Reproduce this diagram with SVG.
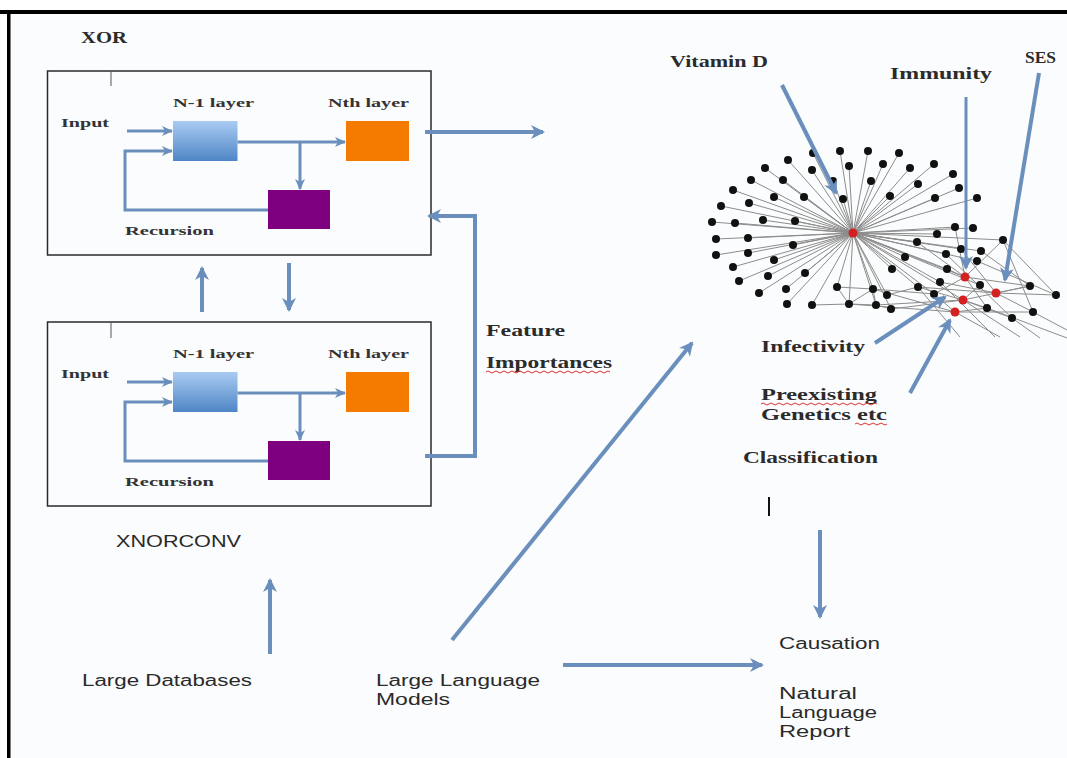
<svg xmlns="http://www.w3.org/2000/svg" width="1067" height="758" viewBox="0 0 1067 758">
<style>
.box{fill:none;stroke:#2a2a2a;stroke-width:1.5}
.ar{fill:none;stroke:#6b8fbd;stroke-width:4;stroke-linecap:butt}
.ars{fill:none;stroke:#6b8fbd;stroke-width:3}
.lbl{font-family:"Liberation Serif",serif;font-weight:bold;fill:#2b2b2b}
.bl{font-family:"Liberation Serif",serif;font-weight:bold;fill:#333;font-size:13px}
.sl{font-family:"Liberation Sans",sans-serif;fill:#2a2a2a;font-size:16px}
.e{stroke:#8c8c8c;stroke-width:1;fill:none}
.n{fill:#111}
.r{fill:#d42020}
.sq{fill:none;stroke:#e03030;stroke-width:1}
</style>
<defs>
<marker id="ah" markerUnits="userSpaceOnUse" markerWidth="16" markerHeight="16" refX="13" refY="8" orient="auto">
<path d="M1,1 L15,8 L1,15 L5,8 z" fill="#6b8fbd"/>
</marker>
<marker id="ahs" markerUnits="userSpaceOnUse" markerWidth="12" markerHeight="12" refX="10" refY="6" orient="auto">
<path d="M0,1 L11,6 L0,11 L3,6 z" fill="#6b8fbd"/>
</marker>
<linearGradient id="gb" x1="0" y1="0" x2="0" y2="1">
<stop offset="0" stop-color="#a9cbf2"/>
<stop offset="1" stop-color="#4f86c6"/>
</linearGradient>
</defs>
<rect x="0" y="0" width="1067" height="758" fill="#ffffff"/>
<rect x="9" y="14" width="1058" height="744" fill="#fbfcfd"/>
<rect x="0" y="10" width="1067" height="4" fill="#000"/>
<rect x="7" y="10" width="3.5" height="748" fill="#000"/>

<g id="xor-block">
<text class="lbl" x="81" y="43" font-size="16.5" textLength="46" lengthAdjust="spacingAndGlyphs">XOR</text>
<rect class="box" x="47.5" y="71" width="383.5" height="184"/>
<line x1="111" y1="71" x2="111" y2="86" stroke="#555" stroke-width="1"/>
<text class="bl" x="173" y="107" textLength="81" lengthAdjust="spacingAndGlyphs">N-1 layer</text>
<text class="bl" x="328" y="107" textLength="81" lengthAdjust="spacingAndGlyphs">Nth layer</text>
<text class="bl" x="61" y="127" textLength="48" lengthAdjust="spacingAndGlyphs">Input</text>
<text class="bl" x="125" y="235" textLength="89" lengthAdjust="spacingAndGlyphs">Recursion</text>
<rect x="173" y="121" width="64.5" height="40" fill="url(#gb)"/>
<rect x="346" y="121" width="63" height="40" fill="#f47b00"/>
<rect x="268" y="190" width="62" height="39" fill="#7f007f"/>
<line class="ars" x1="127" y1="131" x2="172" y2="131" marker-end="url(#ahs)"/>
<polyline class="ars" points="268,210 125,210 125,151 172,151" marker-end="url(#ahs)"/>
<line class="ars" x1="237.5" y1="142" x2="345" y2="142" marker-end="url(#ahs)"/>
<line class="ars" x1="300" y1="142" x2="300" y2="189" marker-end="url(#ahs)"/>
</g>

<g id="xnorconv-block">
<rect class="box" x="47.5" y="322" width="383.5" height="184"/>
<line x1="111" y1="322" x2="111" y2="338" stroke="#555" stroke-width="1"/>
<text class="bl" x="173" y="358" textLength="81" lengthAdjust="spacingAndGlyphs">N-1 layer</text>
<text class="bl" x="328" y="358" textLength="81" lengthAdjust="spacingAndGlyphs">Nth layer</text>
<text class="bl" x="61" y="378" textLength="48" lengthAdjust="spacingAndGlyphs">Input</text>
<text class="bl" x="125" y="486" textLength="89" lengthAdjust="spacingAndGlyphs">Recursion</text>
<rect x="173" y="372" width="64.5" height="40" fill="url(#gb)"/>
<rect x="346" y="372" width="63" height="40" fill="#f47b00"/>
<rect x="268" y="441" width="62" height="39" fill="#7f007f"/>
<line class="ars" x1="127" y1="382" x2="172" y2="382" marker-end="url(#ahs)"/>
<polyline class="ars" points="268,461 125,461 125,402 172,402" marker-end="url(#ahs)"/>
<line class="ars" x1="237.5" y1="393" x2="345" y2="393" marker-end="url(#ahs)"/>
<line class="ars" x1="300" y1="393" x2="300" y2="440" marker-end="url(#ahs)"/>
<text class="sl" x="116" y="547" font-size="17" textLength="125" lengthAdjust="spacingAndGlyphs">XNORCONV</text>
</g>

<g id="labels-left">
<text class="lbl" x="486" y="336" font-size="17" textLength="79" lengthAdjust="spacingAndGlyphs">Feature</text>
<text class="lbl" x="486" y="368" font-size="17" textLength="126" lengthAdjust="spacingAndGlyphs">Importances</text>
<path class="sq" d="M486,372 q2,-2 4,0 t4,0 t4,0 t4,0 t4,0 t4,0 t4,0 t4,0 t4,0 t4,0 t4,0 t4,0 t4,0 t4,0 t4,0 t4,0 t4,0 t4,0 t4,0 t4,0 t4,0 t4,0 t4,0 t4,0 t4,0 t4,0 t4,0 t4,0 t4,0 t4,0 t4,0"/>
</g>

<g id="large-databases"><text class="sl" x="82" y="686" textLength="170" lengthAdjust="spacingAndGlyphs">Large Databases</text></g>
<g id="llm"><text class="sl" x="376" y="686" textLength="164" lengthAdjust="spacingAndGlyphs">Large Language</text>
<text class="sl" x="376" y="705" textLength="74" lengthAdjust="spacingAndGlyphs">Models</text></g>
<g id="causation"><text class="sl" x="779" y="649" textLength="101" lengthAdjust="spacingAndGlyphs">Causation</text></g>
<g id="nl-report"><text class="sl" x="779" y="699" textLength="78" lengthAdjust="spacingAndGlyphs">Natural</text>
<text class="sl" x="779" y="718" textLength="98" lengthAdjust="spacingAndGlyphs">Language</text>
<text class="sl" x="779" y="737" textLength="71" lengthAdjust="spacingAndGlyphs">Report</text></g>

<g id="network">
<g class="e">
<path d="M853,233 L813,153 M853,233 L840,151 M853,233 L868,151 M853,233 L899,153 M853,233 L788,160 M853,233 L765,168 M853,233 L812,170 M853,233 L849,166 M853,233 L883,164 M853,233 L910,168 M853,233 L934,164 M853,233 L953,174 M853,233 L751,180 M853,233 L783,180 M853,233 L833,181 M853,233 L871,181 M853,233 L918,184 M853,233 L959,188 M853,233 L733,190 M853,233 L749,203 M853,233 L774,197 M853,233 L804,197 M853,233 L843,199 M853,233 L890,196 M853,233 L935,198 M853,233 L977,198 M853,233 L721,206 M853,233 L763,220 M853,233 L795,221 M853,233 L712,222 M853,233 L735,223 M853,233 L716,239 M853,233 L748,238 M853,233 L793,245 M853,233 L716,255 M853,233 L748,253 M853,233 L733,267 M853,233 L774,260 M853,233 L805,273 M853,233 L739,281 M853,233 L768,276 M853,233 L759,293 M853,233 L786,289 M853,233 L837,287 M853,233 L873,289 M853,233 L887,295 M853,233 L787,304 M853,233 L812,305 M853,233 L849,304 M853,233 L876,305 M853,233 L891,309"/>
<path d="M853,233 L955,227 M853,233 L973,228 M853,233 L937,234 M853,233 L1003,240 M853,233 L917,242 M853,233 L961,249 M853,233 L981,251 M853,233 L905,257 M853,233 L946,254 M853,233 L977,261 M853,233 L892,269 M853,233 L947,269 M853,233 L940,282 M853,233 L980,285 M853,233 L918,287 M853,233 L934,294 M853,233 L965,277 M853,233 L963,300"/>
<path d="M965,277 L917,242 M965,277 L947,269 M965,277 L1030,286 M965,277 L1003,240 M965,277 L934,294 M965,277 L987,308 M965,277 L955,227 M996,293 L1030,286 M996,293 L1056,295 M996,293 L940,282 M996,293 L918,287 M996,293 L1033,312 M996,293 L961,249 M963,300 L918,287 M963,300 L987,308 M963,300 L1012,318 M963,300 L876,305 M963,300 L891,309 M963,300 L980,285 M963,300 L1030,286 M955,312 L849,304 M955,312 L1033,312 M955,312 L987,308 M955,312 L934,294 M955,312 L873,289 M1003,240 L1056,295 M1003,240 L1033,312 M977,261 L1056,295 M981,251 L1030,286 M946,254 L1012,318 M955,312 L1000,337 M963,300 L1020,337 M987,308 L1067,338 M1033,312 L1067,330 M940,282 L995,337 M1012,318 L1040,338 M918,287 L960,337 M837,287 L873,289 M837,287 L849,304 M849,304 L873,289 M873,289 L876,305 M876,305 L891,309 M849,304 L876,305 M812,305 L849,304 M873,289 L934,294 M887,295 L918,287"/>
</g>
<g class="n">
<circle cx="813" cy="153" r="4"/><circle cx="840" cy="151" r="4"/><circle cx="868" cy="151" r="4"/><circle cx="899" cy="153" r="4"/>
<circle cx="788" cy="160" r="4"/><circle cx="765" cy="168" r="4"/><circle cx="812" cy="170" r="4"/><circle cx="849" cy="166" r="4"/><circle cx="883" cy="164" r="4"/><circle cx="910" cy="168" r="4"/><circle cx="934" cy="164" r="4"/><circle cx="953" cy="174" r="4"/>
<circle cx="751" cy="180" r="4"/><circle cx="783" cy="180" r="4"/><circle cx="833" cy="181" r="4"/><circle cx="871" cy="181" r="4"/><circle cx="918" cy="184" r="4"/><circle cx="959" cy="188" r="4"/>
<circle cx="733" cy="190" r="4"/><circle cx="749" cy="203" r="4"/><circle cx="774" cy="197" r="4"/><circle cx="804" cy="197" r="4"/><circle cx="843" cy="199" r="4"/><circle cx="890" cy="196" r="4"/><circle cx="935" cy="198" r="4"/><circle cx="977" cy="198" r="4"/>
<circle cx="721" cy="206" r="4"/><circle cx="763" cy="220" r="4"/><circle cx="795" cy="221" r="4"/><circle cx="712" cy="222" r="4"/><circle cx="735" cy="223" r="4"/>
<circle cx="716" cy="239" r="4"/><circle cx="748" cy="238" r="4"/><circle cx="793" cy="245" r="4"/>
<circle cx="716" cy="255" r="4"/><circle cx="748" cy="253" r="4"/>
<circle cx="733" cy="267" r="4"/><circle cx="774" cy="260" r="4"/><circle cx="805" cy="273" r="4"/>
<circle cx="739" cy="281" r="4"/><circle cx="768" cy="276" r="4"/>
<circle cx="759" cy="293" r="4"/><circle cx="786" cy="289" r="4"/><circle cx="837" cy="287" r="4"/><circle cx="873" cy="289" r="4"/><circle cx="887" cy="295" r="4"/>
<circle cx="787" cy="304" r="4"/><circle cx="812" cy="305" r="4"/><circle cx="849" cy="304" r="4"/><circle cx="876" cy="305" r="4"/><circle cx="891" cy="309" r="4"/>
<circle cx="955" cy="227" r="4"/><circle cx="973" cy="228" r="4"/><circle cx="937" cy="234" r="4"/><circle cx="1003" cy="240" r="4"/><circle cx="917" cy="242" r="4"/><circle cx="961" cy="249" r="4"/><circle cx="981" cy="251" r="4"/><circle cx="905" cy="257" r="4"/><circle cx="946" cy="254" r="4"/><circle cx="977" cy="261" r="4"/><circle cx="892" cy="269" r="4"/><circle cx="947" cy="269" r="4"/><circle cx="940" cy="282" r="4"/><circle cx="980" cy="285" r="4"/><circle cx="1030" cy="286" r="4"/><circle cx="1056" cy="295" r="4"/><circle cx="918" cy="287" r="4"/><circle cx="934" cy="294" r="4"/><circle cx="987" cy="308" r="4"/><circle cx="1033" cy="312" r="4"/><circle cx="1012" cy="318" r="4"/>
</g>
<g class="r">
<circle cx="853" cy="233" r="4.5"/><circle cx="965" cy="277" r="4.5"/><circle cx="996" cy="293" r="4.5"/><circle cx="963" cy="300" r="4.5"/><circle cx="955" cy="312" r="4.5"/>
</g>
</g>

<g id="factor-labels">
<text class="lbl" x="670" y="67" font-size="17.5" textLength="98" lengthAdjust="spacingAndGlyphs">Vitamin D</text>
<text class="lbl" x="890" y="79" font-size="17" textLength="102" lengthAdjust="spacingAndGlyphs">Immunity</text>
<text class="lbl" x="1025" y="63" font-size="17" textLength="31" lengthAdjust="spacingAndGlyphs">SES</text>
<text class="lbl" x="761" y="352" font-size="17.5" textLength="104" lengthAdjust="spacingAndGlyphs">Infectivity</text>
<text class="lbl" x="761" y="400" font-size="17.5" textLength="116" lengthAdjust="spacingAndGlyphs">Preexisting</text>
<text class="lbl" x="761" y="420" font-size="17.5" textLength="126" lengthAdjust="spacingAndGlyphs">Genetics etc</text>
<path class="sq" d="M761,404 q2,-2 4,0 t4,0 t4,0 t4,0 t4,0 t4,0 t4,0 t4,0 t4,0 t4,0 t4,0 t4,0 t4,0 t4,0 t4,0 t4,0 t4,0 t4,0 t4,0 t4,0 t4,0 t4,0 t4,0 t4,0 t4,0 t4,0 t4,0 t4,0 t4,0"/>
<path class="sq" d="M855,424 q2,-2 4,0 t4,0 t4,0 t4,0 t4,0 t4,0 t4,0 t4,0"/>
<text class="lbl" x="743" y="463" font-size="17.5" textLength="135" lengthAdjust="spacingAndGlyphs">Classification</text>
<line x1="769" y1="497" x2="769" y2="516" stroke="#111" stroke-width="2"/>
</g>

<g id="connectors">
<line class="ar" x1="202" y1="312" x2="202" y2="268" marker-end="url(#ah)"/>
<line class="ar" x1="289" y1="263" x2="289" y2="310" marker-end="url(#ah)"/>
<line class="ar" x1="425" y1="132" x2="543" y2="132" marker-end="url(#ah)"/>
<polyline class="ar" points="425,456 475,456 475,216 429,216" marker-end="url(#ah)"/>
<line class="ar" x1="452" y1="640" x2="692" y2="343" marker-end="url(#ah)"/>
<line class="ar" x1="563" y1="665" x2="762" y2="665" marker-end="url(#ah)"/>
<line class="ar" x1="270" y1="654" x2="270" y2="580" marker-end="url(#ah)"/>
<line class="ar" x1="820" y1="530" x2="820" y2="617" marker-end="url(#ah)"/>
<line class="ar" x1="782" y1="85" x2="836" y2="193" marker-end="url(#ah)"/>
<line class="ar" x1="966" y1="97" x2="966" y2="268" marker-end="url(#ah)" style="stroke-width:3"/>
<line class="ar" x1="1039" y1="73" x2="1005" y2="280" marker-end="url(#ah)"/>
<line class="ar" x1="875" y1="343" x2="945" y2="297" marker-end="url(#ah)"/>
<line class="ar" x1="910" y1="393" x2="950" y2="320" marker-end="url(#ah)"/>
</g>
</svg>
